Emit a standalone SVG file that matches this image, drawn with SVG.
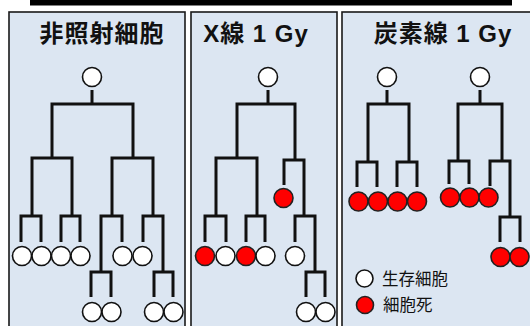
<svg xmlns="http://www.w3.org/2000/svg" width="530" height="326" viewBox="0 0 530 326">
<defs>
<style>
.panel{fill:#DCE6F2;stroke:#1a1a1a;stroke-width:1.6}
.ln{fill:none;stroke:#111;stroke-width:3;stroke-linejoin:miter}
.live{fill:#fff;stroke:#111;stroke-width:1.6}
.dead{fill:#ff0000;stroke:#222;stroke-width:1.6}
.title{font-family:"Liberation Sans","Noto Sans CJK JP",sans-serif;font-weight:bold;font-size:24px;letter-spacing:1px;fill:#111;text-anchor:middle}
.leg{font-family:"Noto Sans CJK JP",sans-serif;font-size:16.5px;fill:#111}
</style>
</defs>
<rect x="0" y="0" width="530" height="326" fill="#fff"/>
<rect x="30" y="-2" width="482" height="7.5" fill="#000"/>
<g id="panel-control">
<rect class="panel" x="9" y="12" width="176" height="330"/>
<text class="title" x="102" y="41.5">非照射細胞</text>
</g>
<g id="panel-xray">
<rect class="panel" x="191" y="12" width="146" height="330"/>
<text class="title" x="256" y="41.5">X線 1 Gy</text>
</g>
<g id="panel-carbon">
<rect class="panel" x="342" y="12" width="200" height="330"/>
<text class="title" x="443" y="41.5">炭素線 1 Gy</text>
</g>
<g id="connectors">
<path class="ln" d="M92 90V104M52 158V104H133V158M32 216V158H72V216M112 216V158H153V216M21 242V216H41V242M61 242V216H80V242M101 272V216H122V242M143 242V216H163V272M91 297V272H111V297M154 297V272H173V297"/>
<path class="ln" d="M268 90V104M237 158V104H295V160M216 216V158H257V216M205 242V216H226V242M246 242V216H265V242M284 185V160H304V216M295 242V216H315V272M306 297V272H325V297"/>
<path class="ln" d="M387 90V104M368 162V104H409V162M357 187V162H377V187M397 187V162H417V187"/>
<path class="ln" d="M480 90V104M458 161V104H502V161M449 184V161H469V184M490 186V161H510V217M500 242V217H520V242"/>
</g>
<g id="cells-control">
<circle class="live" cx="92" cy="77" r="9.5"/>
<circle class="live" cx="22" cy="256" r="9.5"/>
<circle class="live" cx="41.5" cy="256" r="9.5"/>
<circle class="live" cx="61" cy="256" r="9.5"/>
<circle class="live" cx="80.5" cy="256" r="9.5"/>
<circle class="live" cx="122.5" cy="256" r="9.5"/>
<circle class="live" cx="142.5" cy="256" r="9.5"/>
<circle class="live" cx="92" cy="312" r="9.5"/>
<circle class="live" cx="111.5" cy="312" r="9.5"/>
<circle class="live" cx="154" cy="312" r="9.5"/>
<circle class="live" cx="173.5" cy="312" r="9.5"/>
</g>
<g id="cells-xray">
<circle class="live" cx="268" cy="77" r="9.5"/>
<circle class="dead" cx="283.5" cy="198" r="9.5"/>
<circle class="dead" cx="205" cy="256" r="9.5"/>
<circle class="live" cx="225.5" cy="256" r="9.5"/>
<circle class="dead" cx="246" cy="256" r="9.5"/>
<circle class="live" cx="265.5" cy="256" r="9.5"/>
<circle class="live" cx="295" cy="256" r="9.5"/>
<circle class="live" cx="306" cy="312" r="9.5"/>
<circle class="live" cx="325.5" cy="312" r="9.5"/>
</g>
<g id="cells-carbon">
<circle class="live" cx="387" cy="77" r="9.5"/>
<circle class="live" cx="480" cy="77" r="9.5"/>
<circle class="dead" cx="358.5" cy="201.5" r="9.5"/>
<circle class="dead" cx="378" cy="201.5" r="9.5"/>
<circle class="dead" cx="397.5" cy="201.5" r="9.5"/>
<circle class="dead" cx="417" cy="201.5" r="9.5"/>
<circle class="dead" cx="450" cy="197.5" r="9.5"/>
<circle class="dead" cx="469.5" cy="197.5" r="9.5"/>
<circle class="dead" cx="488.5" cy="197.5" r="9.5"/>
<circle class="dead" cx="500.5" cy="257" r="9.5"/>
<circle class="dead" cx="519.5" cy="257" r="9.5"/>
</g>
<g id="legend">
<circle class="live" cx="364.5" cy="278.5" r="8.5"/>
<text class="leg" x="382" y="284.5">生存細胞</text>
<circle class="dead" cx="365" cy="305" r="8.5"/>
<text class="leg" x="383" y="311">細胞死</text>
</g>
</svg>
